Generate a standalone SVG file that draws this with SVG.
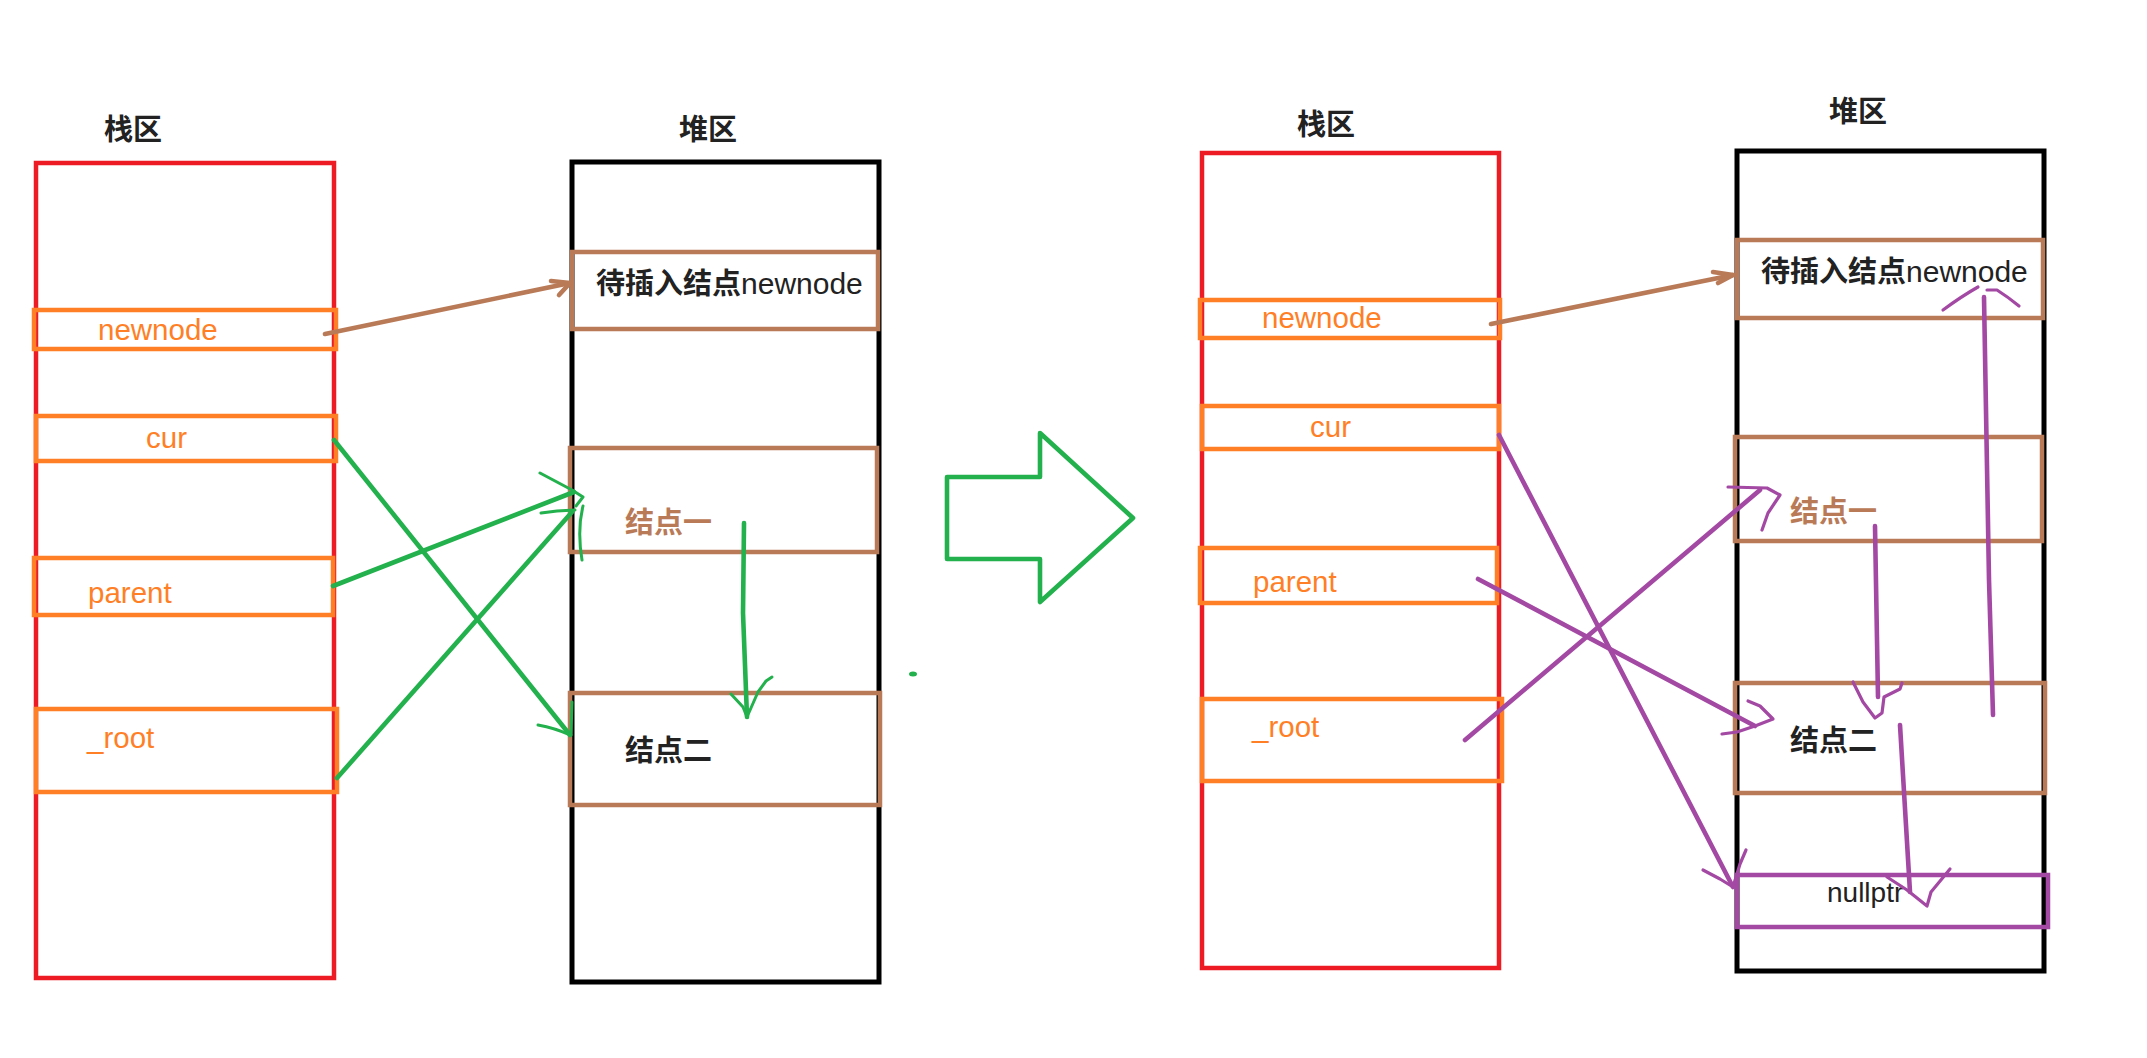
<svg xmlns="http://www.w3.org/2000/svg" width="2147" height="1058" viewBox="0 0 2147 1058">
<style>
.title{font-family:"Noto Sans CJK SC","Noto Sans",sans-serif;font-weight:bold;font-size:29px;fill:#222}
.var{font-family:"Liberation Sans",Arial,sans-serif;font-size:29.5px;fill:#FF7F27}
.cjk{font-family:"Noto Sans CJK SC",sans-serif;font-weight:bold;font-size:29px}
.lat{font-family:"Liberation Sans",Arial,sans-serif;font-size:30px;font-weight:normal}
.stack{fill:none;stroke:#ED1C24;stroke-width:4.5}
.heap{fill:none;stroke:#000;stroke-width:5}
.slot{fill:none;stroke:#FF7F27;stroke-width:4.5}
.node{fill:none;stroke:#B97A57;stroke-width:4.5}
.nul{fill:none;stroke:#A349A4;stroke-width:4.5}
.g{fill:none;stroke:#22B14C;stroke-width:4.6;stroke-linecap:round;stroke-linejoin:round}
.gt{fill:none;stroke:#22B14C;stroke-width:3;stroke-linecap:round;stroke-linejoin:round}
.b{fill:none;stroke:#B97A57;stroke-width:4.6;stroke-linecap:round;stroke-linejoin:round}
.p{fill:none;stroke:#A349A4;stroke-width:4.6;stroke-linecap:round;stroke-linejoin:round}
.pt{fill:none;stroke:#A349A4;stroke-width:3.2;stroke-linecap:round;stroke-linejoin:round}
</style>
<rect width="2147" height="1058" fill="#fff"/>

<!-- LEFT PANEL -->
<g id="stack-left">
  <text class="title" x="104" y="140">栈区</text>
  <rect class="stack" x="36" y="163" width="298" height="815"/>
</g>
<g id="slot-newnode-left">
  <rect class="slot" x="34" y="310" width="302" height="39"/>
  <text class="var" x="98" y="340">newnode</text>
</g>
<g id="slot-cur-left">
  <rect class="slot" x="36" y="416" width="300" height="45"/>
  <text class="var" x="146" y="448">cur</text>
</g>
<g id="slot-parent-left">
  <rect class="slot" x="34" y="558" width="299" height="57"/>
  <text class="var" x="88" y="603">parent</text>
</g>
<g id="slot-root-left">
  <rect class="slot" x="36" y="709" width="301" height="83"/>
  <text class="var" x="87" y="748">_root</text>
</g>

<g id="heap-left">
  <text class="title" x="679" y="140">堆区</text>
  <rect class="heap" x="572" y="162" width="307" height="820"/>
</g>
<g id="node-new-left">
  <rect class="node" x="572" y="252" width="306" height="77"/>
  <text x="596" y="294"><tspan class="cjk" fill="#222">待插入结点</tspan><tspan class="lat" fill="#222">newnode</tspan></text>
</g>
<g id="node-1-left">
  <rect class="node" x="570" y="448" width="307" height="104"/>
  <text class="cjk" fill="#B97A57" x="625" y="533">结点一</text>
</g>
<g id="node-2-left">
  <rect class="node" x="570" y="693" width="310" height="112"/>
  <text class="cjk" fill="#222" x="625" y="761">结点二</text>
</g>

<!-- transition arrow -->
<g id="big-arrow">
  <path class="g" d="M947,477 L1040,477 L1040,433 L1133,518 L1040,602 L1040,559 L947,559 Z"/>
</g>

<!-- RIGHT PANEL -->
<g id="stack-right">
  <text class="title" x="1297" y="135">栈区</text>
  <rect class="stack" x="1202" y="153" width="297" height="815"/>
</g>
<g id="slot-newnode-right">
  <rect class="slot" x="1200" y="300" width="300" height="38"/>
  <text class="var" x="1262" y="328">newnode</text>
</g>
<g id="slot-cur-right">
  <rect class="slot" x="1202" y="406" width="297" height="43"/>
  <text class="var" x="1310" y="437">cur</text>
</g>
<g id="slot-parent-right">
  <rect class="slot" x="1200" y="548" width="297" height="55"/>
  <text class="var" x="1253" y="592">parent</text>
</g>
<g id="slot-root-right">
  <rect class="slot" x="1202" y="699" width="300" height="82"/>
  <text class="var" x="1252" y="737">_root</text>
</g>

<g id="heap-right">
  <text class="title" x="1829" y="122">堆区</text>
  <rect class="heap" x="1737" y="151" width="307" height="820"/>
</g>
<g id="node-new-right">
  <rect class="node" x="1737" y="240" width="306" height="78"/>
  <text x="1761" y="282"><tspan class="cjk" fill="#222">待插入结点</tspan><tspan class="lat" fill="#222">newnode</tspan></text>
</g>
<g id="node-1-right">
  <rect class="node" x="1735" y="437" width="307" height="104"/>
  <text class="cjk" fill="#B97A57" x="1790" y="522">结点一</text>
</g>
<g id="node-2-right">
  <rect class="node" x="1735" y="683" width="310" height="110"/>
  <text class="cjk" fill="#222" x="1790" y="751">结点二</text>
</g>
<g id="node-null-right">
  <rect class="nul" x="1737" y="875" width="311" height="52"/>
  <text x="1827" y="902" font-family="Liberation Sans, Arial, sans-serif" font-size="28" fill="#222">nullptr</text>
</g>

<!-- CONNECTORS -->
<g id="connectors">
  <!-- left: newnode -> new node -->
  <path class="b" d="M325,334 L570,283"/>
  <path class="b" stroke-width="3.2" d="M551,281 L570,283 L559,295"/>
  <!-- left: cur -> node 2 -->
  <path class="g" d="M334,440 L570,735"/>
  <path class="gt" d="M538,725 Q555,728 570,735 M572,702 L571,735"/>
  <!-- left: parent -> node 1 -->
  <path class="g" d="M333,586 L574,492"/>
  <!-- left: _root -> node 1 -->
  <path class="g" d="M337,778 L572,512"/>
  <path class="gt" d="M540,473 L572,490 L583,497 L576,506 M541,513 L557,511 L575,510 M583,506 Q577,530 582,560"/>
  <!-- left: node 1 -> node 2 -->
  <path class="g" d="M744,523 L743,613 L747,717"/>
  <path class="gt" d="M731,694 L743,707 L747,717 M772,677 L766,681 L758,692 L747,717"/>
  <ellipse cx="913" cy="674" rx="4" ry="2.5" fill="#22B14C"/>

  <!-- right: newnode -> new node -->
  <path class="b" d="M1491,324 L1733,275"/>
  <path class="b" stroke-width="3.2" d="M1713,272 L1733,275 L1718,283"/>
  <!-- right: cur -> nullptr -->
  <path class="p" d="M1499,435 L1733,887"/>
  <path class="pt" d="M1703,870 L1720,879 L1733,887 M1746,850 L1740,864 L1733,887"/>
  <!-- right: parent -> node 2 -->
  <path class="p" d="M1478,579 L1755,726"/>
  <path class="pt" d="M1748,701 L1760,706 L1773,719 L1755,726 M1722,734 L1737,732 L1755,726"/>
  <!-- right: _root -> node 1 -->
  <path class="p" d="M1465,740 L1760,490"/>
  <path class="pt" d="M1728,487 L1767,488 L1780,495 L1768,513 L1762,530"/>
  <!-- right: node 1 -> node 2 -->
  <path class="p" d="M1875,526 L1878,697"/>
  <path class="pt" d="M1853,682 L1863,702 L1875,718 M1902,683 L1900,689 L1884,697 L1882,713 L1875,718"/>
  <!-- right: node 2 -> nullptr -->
  <path class="p" d="M1900,725 L1910,892"/>
  <path class="pt" d="M1887,877 L1907,890 L1927,906 M1950,869 L1931,892 L1927,906"/>
  <!-- right: node 2 -> new node (up) -->
  <path class="p" d="M1993,715 L1989,580 L1984,297"/>
  <path class="pt" d="M1943,310 Q1962,296 1978,287 M1987,290 L1997,290 Q2008,297 2019,306"/>
</g>
</svg>
